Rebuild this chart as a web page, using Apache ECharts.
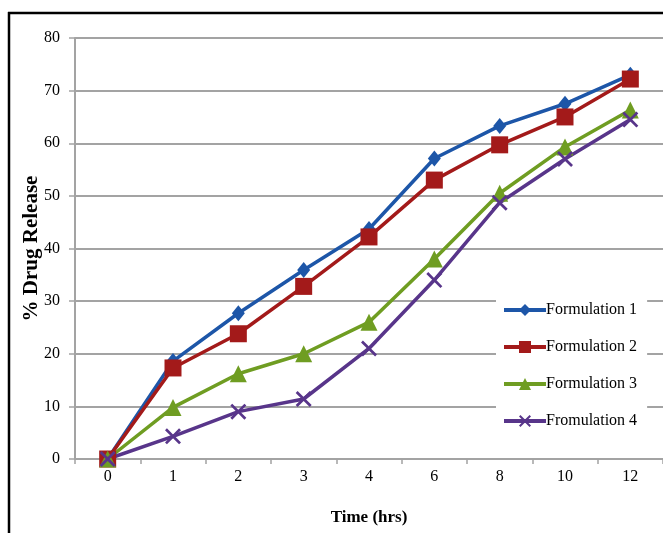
<!DOCTYPE html>
<html>
<head>
<meta charset="utf-8">
<script src="https://cdn.jsdelivr.net/npm/echarts@6/dist/echarts.min.js"></script>
<style>
html,body{margin:0;padding:0;background:#fff;}
#chart{width:663px;height:533px;}
</style>
</head>
<body>
<div id="chart"></div>
<script>
var categories = ['0','1','2','3','4','6','8','10','12'];
var formulation1 = [0, 18.6, 27.7, 35.9, 43.7, 57.1, 63.3, 67.5, 73.0];
var formulation2 = [0, 17.3, 23.8, 32.8, 42.2, 53.0, 59.7, 65.0, 72.2];
var formulation3 = [0, 9.8, 16.2, 20.0, 26.0, 38.0, 50.5, 59.3, 66.3];
var formulation4 = [0, 4.3, 9.0, 11.4, 21.0, 34.0, 48.7, 57.0, 64.5];
var seriesNames = ['Formulation 1','Formulation 2','Formulation 3','Fromulation 4'];
var yTicks = [0,10,20,30,40,50,60,70,80];

var xPath = 'path://M0,1.2 L1.2,0 L5,3.8 L8.8,0 L10,1.2 L6.2,5 L10,8.8 L8.8,10 L5,6.2 L1.2,10 L0,8.8 L3.8,5 Z';
var font = '"Liberation Serif", "Times New Roman", serif';
var gridColor = '#a3a3a3';

var chart = echarts.init(document.getElementById('chart'));
function mk(name, data, color, symbol, size) {
  return {
    name: name, type: 'line', data: data,
    symbol: symbol, symbolSize: size, showSymbol: true,
    lineStyle: {color: color, width: 3.5},
    itemStyle: {color: color},
    animation: false
  };
}
chart.setOption({
  animation: false,
  backgroundColor: '#fff',
  graphic: [
    {type:'line', shape:{x1:8, y1:13, x2:663, y2:13}, style:{stroke:'#000', lineWidth:2.5}},
    {type:'line', shape:{x1:9, y1:12, x2:9, y2:533}, style:{stroke:'#000', lineWidth:2.5}}
  ],
  grid: {left: 75, top: 38, width: 590, height: 421, containLabel: false},
  legend: {
    orient: 'vertical', left: 496, top: 298,
    itemWidth: 42, itemHeight: 15, itemGap: 21,
    backgroundColor: '#fff', padding: [4, 10, 10, 6],
    lineStyle: {width: 4},
    textStyle: {fontFamily: font, fontSize: 16, color: '#000', padding:[0,0,0,-5]},
    data: seriesNames
  },
  xAxis: {
    type: 'category', data: categories, boundaryGap: true,
    axisLine: {lineStyle: {color: gridColor, width: 2}},
    axisTick: {show: true, length: 5, lineStyle: {color: gridColor, width: 1.5}},
    axisLabel: {fontFamily: font, fontSize: 16, color: '#000', margin: 10},
    name: 'Time (hrs)', nameLocation: 'middle', nameGap: 50, nameMoveOverlap: false,
    nameTextStyle: {fontFamily: font, fontSize: 17, fontWeight: 'bold', color: '#000'}
  },
  yAxis: {
    type: 'value', min: 0, max: 80, interval: 10,
    axisLine: {show: true, lineStyle: {color: gridColor, width: 2}},
    axisTick: {show: true, length: 6, lineStyle: {color: gridColor, width: 1.5}},
    axisLabel: {fontFamily: font, fontSize: 16, color: '#000', margin: 15,
      formatter: function(v){ return yTicks.indexOf(v) >= 0 ? String(v) : ''; }},
    splitLine: {lineStyle: {color: gridColor, width: 2}},
    name: '% Drug Release', nameLocation: 'middle', nameGap: 33, nameMoveOverlap: false,
    nameTextStyle: {fontFamily: font, fontSize: 21, fontWeight: 'bold', color: '#000'}
  },
  series: [
    mk(seriesNames[0], formulation1, '#1d56a8', 'diamond', [13, 16]),
    mk(seriesNames[1], formulation2, '#a31a1a', 'rect', 17),
    mk(seriesNames[2], formulation3, '#6f9d22', 'triangle', 17),
    mk(seriesNames[3], formulation4, '#58358a', xPath, 16)
  ]
});
</script>
</body>
</html>
